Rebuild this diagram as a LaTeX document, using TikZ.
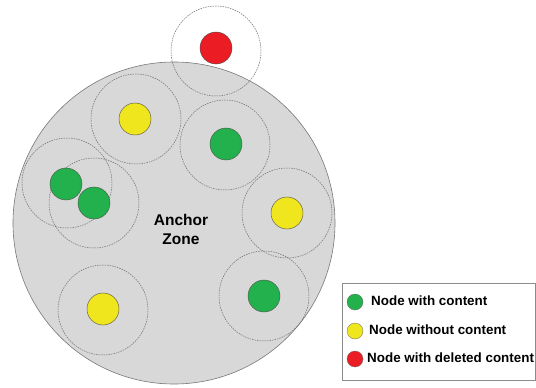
\documentclass[tikz,border=0pt]{standalone}
\usepackage{fontspec}
\setmainfont{Liberation Sans}
\definecolor{zonegray}{RGB}{216,216,216}
\definecolor{zoneedge}{RGB}{120,120,120}
\definecolor{dgreen}{RGB}{34,177,76}
\definecolor{dyellow}{RGB}{240,230,30}
\definecolor{dred}{RGB}{236,28,36}
\definecolor{rangeedge}{RGB}{110,110,110}
\begin{document}
\begin{tikzpicture}[x=1pt,y=-1pt,
  dot/.style={circle,inner sep=0pt,minimum size=32pt,draw=black!70,line width=0.4pt},
  rangecirc/.style={circle,inner sep=0pt,minimum size=90pt,draw=rangeedge,dashed,dash pattern=on 1.5pt off 1pt,line width=0.5pt},
  legdot/.style={circle,inner sep=0pt,minimum size=16pt,draw=black!60,line width=0.3pt},
  legtext/.style={anchor=west,inner sep=0pt,font=\fontsize{13.4}{15}\selectfont\bfseries}]
\useasboundingbox (0,0) rectangle (536,388);
\fill[white] (0,0) rectangle (536,388);
% anchor zone
\node[circle,inner sep=0pt,minimum size=322pt,fill=zonegray,draw=zoneedge,line width=0.6pt] (zone) at (174,223) {};
\node[align=center,font=\fontsize{15.5}{19}\selectfont\bfseries,inner sep=0pt] (zlabel) at (181,229) {Anchor\\Zone};
% range circles
\node[rangecirc] (rr) at (216,51) {};
\node[rangecirc] (ry1) at (136,119) {};
\node[rangecirc] (rg1) at (225,145) {};
\node[rangecirc] (rg2) at (67,183) {};
\node[rangecirc] (rg3) at (94,203) {};
\node[rangecirc] (ry2) at (287,213) {};
\node[rangecirc] (ry3) at (103,310) {};
\node[rangecirc] (rg4) at (264,296) {};
% nodes
\node[dot,fill=dred] (r) at (216,48) {};
\node[dot,fill=dyellow] (y1) at (135,119) {};
\node[dot,fill=dgreen] (g1) at (226,144) {};
\node[dot,fill=dgreen] (g2) at (66,184) {};
\node[dot,fill=dgreen] (g3) at (94,203) {};
\node[dot,fill=dyellow] (y2) at (287,213) {};
\node[dot,fill=dyellow] (y3) at (103,309) {};
\node[dot,fill=dgreen] (g4) at (264,296) {};
% legend
\draw[draw=black!45,line width=0.6pt,fill=white] (342,283) rectangle (535.5,380);
\node[legdot,fill=dgreen] (lg) at (355,302) {};
\node[legdot,fill=dyellow] (ly) at (355,331) {};
\node[legdot,fill=dred] (lr) at (355,359) {};
\node[legtext] (tg) at (371,301) {Node with content};
\node[legtext] (ty) at (369,330) {Node without content};
\node[legtext] (tr) at (367,358) {Node with deleted content};
\end{tikzpicture}
\end{document}
